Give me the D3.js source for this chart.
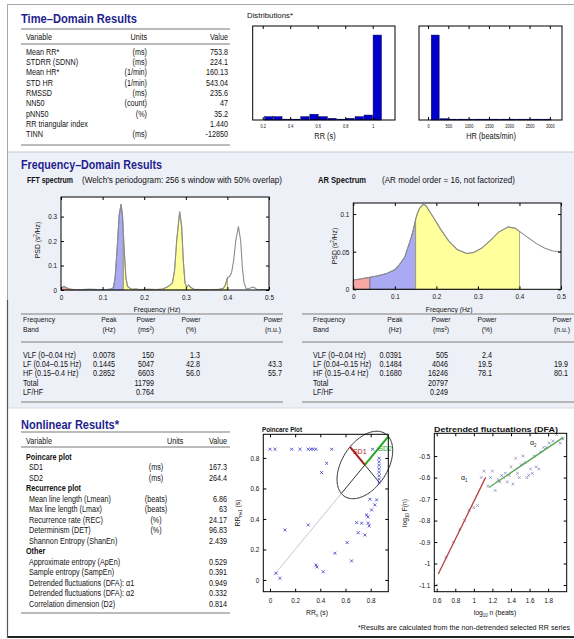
<!DOCTYPE html>
<html lang="en">
<head>
  <meta charset="UTF-8">
  <title>HRV Analysis Results</title>
  <style>
    body { margin: 0; background: #fff; }
    svg { display: block; }
  </style>
  <script src="https://d3js.org/d3.v7.min.js"></script>
</head>
<body>
  <svg id="chart" width="574" height="639"></svg>
  <script>
    const FONT = '"Liberation Sans Narrow","Arial Narrow","Liberation Sans",Arial,sans-serif';
    const navy = "#1f1f8f";

    // ---- time domain ----
    const timeVars = ["Mean RR*", "STDRR (SDNN)", "Mean HR*", "STD HR", "RMSSD", "NN50", "pNN50", "RR triangular index", "TINN"];
    const timeUnits = ["(ms)", "(ms)", "(1/min)", "(1/min)", "(ms)", "(count)", "(%)", "", "(ms)"];
    const timeValues = ["753.8", "224.1", "160.13", "543.04", "235.6", "47", "35.2", "1.440", "-12850"];

    // ---- distributions ----
    const rrBins = [0.244, 0.310, 0.375, 0.441, 0.507, 0.573, 0.639, 0.704, 0.770, 0.836, 0.902, 0.967, 1.033];
    const rrCounts = [4, 4, 1, 1, 4, 7, 4, 2, 1, 2, 4, 6, 103];
    const rrTicks = [0.2, 0.4, 0.6, 0.8, 1];
    const hrBins = [177, 389, 601, 813, 1025, 1237, 1449, 1661, 1873, 2085, 2297, 2509, 2721, 2933];
    const hrCounts = [103, 1.5, 1, 1, 1, 1, 1, 1, 1, 1, 1, 1, 1, 1];
    const hrTicks = [0, 500, 1000, 1500, 2000, 2500, 3000];

    // ---- spectra ----
    const fftFreq = [0, 0.004, 0.008, 0.012, 0.02, 0.03, 0.04, 0.05, 0.07, 0.09, 0.11, 0.12, 0.126, 0.13, 0.135, 0.14, 0.1445, 0.148, 0.15, 0.152, 0.156, 0.16, 0.165, 0.17, 0.18, 0.19, 0.21, 0.23, 0.245, 0.255, 0.262, 0.268, 0.273, 0.278, 0.2852, 0.29, 0.294, 0.298, 0.302, 0.307, 0.312, 0.32, 0.34, 0.36, 0.38, 0.39, 0.395, 0.4, 0.405, 0.41, 0.415, 0.42, 0.4265, 0.432, 0.436, 0.44, 0.445, 0.45, 0.46, 0.465, 0.47, 0.48, 0.5];
    const fftPsd = [0.008, 0.012, 0.014, 0.01, 0.004, 0.002, 0.002, 0.002, 0.003, 0.002, 0.002, 0.004, 0.01, 0.05, 0.17, 0.31, 0.35, 0.30, 0.23, 0.16, 0.05, 0.015, 0.008, 0.003, 0.004, 0.002, 0.003, 0.002, 0.004, 0.012, 0.02, 0.03, 0.08, 0.2, 0.32, 0.26, 0.12, 0.03, 0.012, 0.02, 0.01, 0.003, 0.002, 0.002, 0.003, 0.006, 0.02, 0.05, 0.055, 0.07, 0.12, 0.2, 0.26, 0.2, 0.09, 0.03, 0.006, 0.004, 0.012, 0.01, 0.003, 0.002, 0.002];
    const arFreq = [0, 0.02, 0.04, 0.06, 0.08, 0.1, 0.11, 0.124, 0.136, 0.14, 0.145, 0.15, 0.155, 0.16, 0.1685, 0.175, 0.19, 0.21, 0.23, 0.25, 0.273, 0.29, 0.31, 0.33, 0.35, 0.373, 0.39, 0.4, 0.42, 0.44, 0.46, 0.48, 0.5];
    const arPsd = [0.0124, 0.014, 0.016, 0.018, 0.021, 0.026, 0.032, 0.043, 0.063, 0.07, 0.08, 0.093, 0.102, 0.108, 0.113, 0.111, 0.098, 0.08, 0.064, 0.053, 0.0476, 0.049, 0.055, 0.065, 0.076, 0.083, 0.081, 0.077, 0.069, 0.061, 0.055, 0.051, 0.05];
    const bandEdges = [0, 0.04, 0.15, 0.4];
    const bandColors = ["#f8a8a4", "#aaaaf4", "#ffff9c"];
    const bandNames = ["VLF (0–0.04 Hz)", "LF (0.04–0.15 Hz)", "HF (0.15–0.4 Hz)"];

    const fftPeak = ["0.0078", "0.1445", "0.2852"];
    const fftPowMs = ["150", "5047", "6603"];
    const fftPowPct = ["1.3", "42.8", "56.0"];
    const fftPowNu = ["", "43.3", "55.7"];
    const fftTotal = "11799", fftLfHf = "0.764";
    const arPeak = ["0.0391", "0.1484", "0.1680"];
    const arPowMs = ["505", "4046", "16246"];
    const arPowPct = ["2.4", "19.5", "78.1"];
    const arPowNu = ["", "19.9", "80.1"];
    const arTotal = "20797", arLfHf = "0.249";

    // ---- nonlinear ----
    const nlVars = ["Poincare plot", "SD1", "SD2", "Recurrence plot", "Mean line length (Lmean)", "Max line length (Lmax)", "Recurrence rate (REC)", "Determinism (DET)", "Shannon Entropy (ShanEn)", "Other", "Approximate entropy (ApEn)", "Sample entropy (SampEn)", "Detrended fluctuations (DFA): α1", "Detrended fluctuations (DFA): α2", "Correlation dimension (D2)"];
    const nlUnits = ["", "(ms)", "(ms)", "", "(beats)", "(beats)", "(%)", "(%)", "", "", "", "", "", "", ""];
    const nlValues = ["", "167.3", "264.4", "", "6.86", "63", "24.17", "96.83", "2.439", "", "0.529", "0.391", "0.949", "0.332", "0.814"];
    const nlHeads = [true, false, false, true, false, false, false, false, false, true, false, false, false, false, false];

    const meanRR = 0.7538, sd1 = 0.1673, sd2 = 0.2644;
    const pX = [0, 0.04, 0.172, 0.238, 0.304, 0.325, 0.344, 0.365, 0.49, 0.815, 0.86, 0.45, 0.41, 0.119, 0.304, 0.365, 0.373, 0.423, 0.516, 0.048, 0.079, 0.613, 0.648, 0.794, 0.833, 0.807, 0.847, 0.767, 0.778, 0.78, 0.788, 0.688, 0.728, 0.701, 0.754, 0.867, 0.867, 0.867, 0.867, 0.867, 0.867, 0.867, 0.867];
    const pY = [0.857, 0.857, 0.857, 0.857, 0.857, 0.857, 0.857, 0.857, 0.857, 0.857, 0.857, 0.765, 0.704, 0.328, 0.361, 0.098, 0.085, 0.054, 0.175, 0.044, 0.011, 0.245, 0.125, 0.529, 0.492, 0.459, 0.525, 0.426, 0.413, 0.372, 0.354, 0.376, 0.372, 0.31, 0.295, 0.798, 0.775, 0.752, 0.729, 0.706, 0.683, 0.66, 0.637];

    const dfaX = [0.60, 0.70, 0.78, 0.85, 0.90, 0.95, 1.00, 1.04, 1.08, 1.11, 1.15, 1.18, 1.20, 1.23, 1.26, 1.28, 1.30, 1.32, 1.34, 1.36, 1.38, 1.40, 1.42, 1.45, 1.47, 1.49, 1.51, 1.53, 1.55, 1.57, 1.59, 1.61, 1.63, 1.65, 1.67, 1.70, 1.72, 1.75, 1.78, 1.81, 1.85, 1.89, 1.93, 1.96];
    const dfaY = [-1.10, -0.97, -0.90, -0.84, -0.80, -0.75, -0.74, -0.73, -0.60, -0.57, -0.64, -0.60, -0.57, -0.66, -0.61, -0.62, -0.59, -0.60, -0.58, -0.62, -0.59, -0.55, -0.63, -0.51, -0.58, -0.60, -0.54, -0.50, -0.53, -0.60, -0.59, -0.56, -0.58, -0.50, -0.55, -0.56, -0.48, -0.46, -0.46, -0.44, -0.43, -0.40, -0.44, -0.42];
    const alpha1X = [0.617, 1.127], alpha1Y = [-1.049, -0.599];
    const alpha2X = [1.163, 1.963], alpha2Y = [-0.646, -0.413];

    const svg = d3.select("#chart").attr("font-family", FONT);

    function t(g, s, x, y, o = {}) {
      const el = g.append("text").attr("x", x).attr("y", y)
        .attr("font-size", o.size || 8.3)
        .attr("text-anchor", o.anchor || "start")
        .attr("font-weight", o.bold ? "bold" : null)
        .attr("fill", o.fill || "#111")
        .text(s);
      if (o.w) el.attr("textLength", o.w).attr("lengthAdjust", "spacingAndGlyphs").classed("fixed", true);
      return el;
    }
    function hl(g, x1, x2, y, c = "#a4a4a4", w = 1.4) {
      g.append("line").attr("x1", x1).attr("x2", x2).attr("y1", y).attr("y2", y)
        .attr("stroke", c).attr("stroke-width", w);
    }

    // box with inward ticks on every side (matlab style)
    function boxAxes(g, x, y, xTicks, yTicks, o = {}) {
      const [xl, xr] = x.range(), [yb, yt] = y.range();
      const fx = o.fx || (d => String(d)), fy = o.fy || (d => String(d));
      const ax = [
        [d3.axisBottom(x).tickValues(xTicks).tickFormat(fx).tickPadding(o.padX || 5), `translate(0,${yb})`],
        [d3.axisTop(x).tickValues(xTicks).tickFormat(""), `translate(0,${yt})`]
      ];
      if (yTicks) {
        ax.push([d3.axisLeft(y).tickValues(yTicks).tickFormat(fy).tickPadding(4), `translate(${xl},0)`]);
        ax.push([d3.axisRight(y).tickValues(yTicks).tickFormat(""), `translate(${xr},0)`]);
      }
      ax.forEach(([a, tr]) => {
        g.append("g").attr("transform", tr)
          .call(a.tickSize(-3).tickSizeOuter(0))
          .attr("font-family", FONT).attr("font-size", o.fs || 7.3)
          .call(s => s.select(".domain").remove());
      });
      g.selectAll(".tick text").attr("fill", "#111");
      g.append("rect").attr("x", xl).attr("y", yt).attr("width", xr - xl).attr("height", yb - yt)
        .attr("fill", "none").attr("stroke", "#000").attr("stroke-width", 1);
    }

    // page background panels
    svg.append("rect").attr("x", 8).attr("y", 152).attr("width", 566).attr("height", 256).attr("fill", "#eef0f8");
    hl(svg, 8, 574, 152, "#c4c6d2", 1);
    hl(svg, 8, 574, 408, "#d8d9e2", 1);

    // ---------------- Time domain ----------------
    t(svg, "Time–Domain Results", 21, 22.5, { size: 13, bold: true, fill: navy, w: 116 });
    const tg = svg.append("g");
    hl(tg, 21, 230, 29); hl(tg, 21, 230, 44); hl(tg, 21, 230, 145);
    t(tg, "Variable", 26, 39.5); t(tg, "Units", 147, 39.5, { anchor: "end" }); t(tg, "Value", 228, 39.5, { anchor: "end" });
    const trow = d3.scaleLinear().domain([0, timeVars.length - 1]).range([52, 134.6]);
    timeVars.forEach((v, i) => {
      const y = trow(i) + 2.8;
      t(tg, v, 26, y);
      t(tg, timeUnits[i], 147, y, { anchor: "end" });
      t(tg, timeValues[i], 228, y, { anchor: "end" });
    });

    // ---------------- Distributions ----------------
    t(svg, "Distributions*", 247, 18, { size: 8, w: 46 });
    function hist(x0, x1, dom, bins, counts, binW, ticks, label, lx) {
      const g = svg.append("g");
      const x = d3.scaleLinear().domain(dom).range([x0, x1]);
      const y = d3.scaleLinear().domain([0, 114]).range([120, 26]);
      g.append("rect").attr("x", x0).attr("y", 26).attr("width", x1 - x0).attr("height", 94).attr("fill", "#fff");
      g.selectAll("rect.bar").data(bins).join("rect").attr("class", "bar")
        .attr("x", d => x(d - binW * 0.46))
        .attr("width", d => x(d + binW * 0.46) - x(d - binW * 0.46))
        .attr("y", (d, i) => y(counts[i]))
        .attr("height", (d, i) => y(0) - y(counts[i]))
        .attr("fill", "#0000c8").attr("stroke", "#00005a").attr("stroke-width", 0.5);
      boxAxes(g, x, y, ticks, null, { fs: 4.5, padX: 5 });
      t(g, label, lx, 139, { size: 8.5, anchor: "middle" });
    }
    hist(252.7, 395, [0.127, 1.162], rrBins, rrCounts, 0.0658, rrTicks, "RR (s)", 325);
    hist(419, 562, [-221.7, 3300], hrBins, hrCounts, 212, hrTicks, "HR (beats/min)", 491);

    // ---------------- Frequency domain ----------------
    t(svg, "Frequency–Domain Results", 21, 169, { size: 13, bold: true, fill: navy, w: 141 });
    t(svg, "FFT spectrum", 27, 183, { size: 8.5, bold: true, w: 46 });
    t(svg, "(Welch's periodogram: 256 s window with 50% overlap)", 82, 183, { size: 8.5, w: 200 });
    t(svg, "AR Spectrum", 318, 183, { size: 8.5, bold: true, w: 48 });
    t(svg, "(AR model order = 16, not factorized)", 382, 183, { size: 8.5, w: 133 });

    function spectrum(x0, x1, yb, yt, yMax, freq, psd, yTicks, labX, labY) {
      const g = svg.append("g");
      const x = d3.scaleLinear().domain([0, 0.5]).range([x0, x1]);
      const y = d3.scaleLinear().domain([0, yMax]).range([yb, yt]);
      const pts = freq.map((f, i) => [f, psd[i]]);
      g.append("rect").attr("x", x0).attr("y", yt).attr("width", x1 - x0).attr("height", yb - yt).attr("fill", "#fff");
      const area = d3.area().x(d => x(d[0])).y0(y(0)).y1(d => y(d[1]));
      bandColors.forEach((c, i) => {
        const seg = pts.filter(d => d[0] >= bandEdges[i] && d[0] <= bandEdges[i + 1]);
        g.append("path").attr("d", area(seg)).attr("fill", c)
          .attr("stroke", d3.color(c).darker(1.6)).attr("stroke-width", 0.7);
      });
      g.append("path").attr("d", d3.line().x(d => x(d[0])).y(d => y(d[1]))(pts))
        .attr("fill", "none").attr("stroke", "#8c8c8c").attr("stroke-width", 1.1);
      boxAxes(g, x, y, [0, 0.1, 0.2, 0.3, 0.4, 0.5], yTicks, { padX: 5 });
      t(g, "Frequency (Hz)", (x0 + x1) / 2 - 8, 311.5, { size: 7.8, anchor: "middle" });
      const pl = g.append("text").attr("transform", `translate(${labX},${labY}) rotate(-90)`)
        .attr("text-anchor", "middle").attr("font-size", 7.8).attr("fill", "#111");
      pl.append("tspan").text("PSD (s");
      pl.append("tspan").attr("font-size", 5).attr("dy", -3).text("2");
      pl.append("tspan").attr("dy", 3).text("/Hz)");
    }
    spectrum(61, 269, 290, 197, 0.38, fftFreq, fftPsd, [0, 0.1, 0.2, 0.3], 40, 240);
    spectrum(353.3, 561, 289.3, 203, 0.1147, arFreq, arPsd, [0, 0.05, 0.1], 337, 246);

    function freqTable(x0, x1, c, peak, ms, pct, nu, total, lfhf) {
      const g = svg.append("g");
      hl(g, x0, x1, 314); hl(g, x0, x1, 342); hl(g, x0, x1, 402);
      const h1 = 322, h2 = 331.8, hs = 7.8;
      t(g, "Frequency", c.band, h1, { size: hs }); t(g, "Band", c.band, h2, { size: hs });
      [["Peak", "(Hz)", c.peakH], ["Power", "(ms²)", c.msH], ["Power", "(%)", c.pctH], ["Power", "(n.u.)", c.nuH]]
        .forEach(([a, b, x]) => { t(g, a, x, h1, { anchor: "middle", size: hs }); t(g, b, x, h2, { anchor: "middle", size: hs }); });
      const ry = [355, 364, 373];
      bandNames.forEach((b, i) => {
        const y = ry[i] + 2.8;
        t(g, b, c.band, y);
        t(g, peak[i], c.peakR, y, { anchor: "end" });
        t(g, ms[i], c.msR, y, { anchor: "end" });
        t(g, pct[i], c.pctR, y, { anchor: "end" });
        t(g, nu[i], c.nuR, y, { anchor: "end" });
      });
      t(g, "Total", c.band, 385.8); t(g, total, c.msR, 385.8, { anchor: "end" });
      t(g, "LF/HF", c.band, 394.8); t(g, lfhf, c.msR, 394.8, { anchor: "end" });
    }
    freqTable(21, 283, { band: 23, peakR: 115, peakH: 109, msR: 154, msH: 146, pctR: 200, pctH: 191, nuR: 282, nuH: 273 },
      fftPeak, fftPowMs, fftPowPct, fftPowNu, fftTotal, fftLfHf);
    freqTable(302, 574, { band: 313, peakR: 401.7, peakH: 395, msR: 448, msH: 441, pctR: 492, pctH: 487, nuR: 568, nuH: 562 },
      arPeak, arPowMs, arPowPct, arPowNu, arTotal, arLfHf);

    // ---------------- Nonlinear ----------------
    t(svg, "Nonlinear Results*", 21, 429, { size: 13, bold: true, fill: navy, w: 98 });
    const ng = svg.append("g");
    hl(ng, 21, 230, 432); hl(ng, 21, 230, 447); hl(ng, 21, 230, 613);
    t(ng, "Variable", 26, 443.5); t(ng, "Units", 167, 443.5); t(ng, "Value", 227, 443.5, { anchor: "end" });
    const nrow = d3.scaleLinear().domain([0, nlVars.length - 1]).range([457, 604]);
    nlVars.forEach((v, i) => {
      const y = nrow(i) + 2.8;
      t(ng, v, nlHeads[i] ? 26 : 29, y, { bold: nlHeads[i] });
      t(ng, nlUnits[i], 156, y, { anchor: "middle" });
      t(ng, nlValues[i], 227, y, { anchor: "end" });
    });

    // Poincare plot
    {
      const g = svg.append("g");
      const x = d3.scaleLinear().domain([-0.053, 0.94]).range([263.3, 388.3]);
      const y = d3.scaleLinear().domain([-0.077, 0.955]).range([591.7, 434.3]);
      g.append("rect").attr("x", 263.3).attr("y", 434.3).attr("width", 125).attr("height", 157.4).attr("fill", "#fff");
      const r2 = Math.SQRT1_2;
      const lo = meanRR - sd2 * r2;
      const seg = (a, b, c, w) => g.append("line").attr("x1", x(a[0])).attr("y1", y(a[1]))
        .attr("x2", x(b[0])).attr("y2", y(b[1])).attr("stroke", c).attr("stroke-width", w);
      seg([0.03, 0.03], [lo, lo], "#c8c8c8", 1);
      const ell = d3.range(0, 2 * Math.PI + 0.05, 0.05).map(a => [
        meanRR + sd2 * Math.cos(a) * r2 - sd1 * Math.sin(a) * r2,
        meanRR + sd2 * Math.cos(a) * r2 + sd1 * Math.sin(a) * r2]);
      g.append("path").attr("d", d3.line().x(d => x(d[0])).y(d => y(d[1]))(ell))
        .attr("fill", "none").attr("stroke", "#333").attr("stroke-width", 1);
      seg([lo, lo], [meanRR, meanRR], "#333", 1);
      seg([meanRR + sd1 * r2, meanRR - sd1 * r2], [meanRR, meanRR], "#333", 1);
      g.selectAll("path.pt").data(pX).join("path").attr("class", "pt")
        .attr("transform", (d, i) => `translate(${x(d)},${y(pY[i])})`)
        .attr("d", d3.symbol(d3.symbolX, 7))
        .attr("fill", "none").attr("stroke", "#3a3ac8").attr("stroke-width", 0.8);
      seg([meanRR, meanRR], [meanRR + sd2 * r2, meanRR + sd2 * r2], "#22aa22", 2);
      seg([meanRR, meanRR], [meanRR - sd1 * r2, meanRR + sd1 * r2], "#aa1c1c", 2);
      t(g, "SD1", x(meanRR - sd1 * r2) + 3, y(meanRR + sd1 * r2) + 7, { size: 8, fill: "#aa1c1c" });
      t(g, "SD2", x(meanRR + sd2 * r2 * 0.45) + 3, y(meanRR + sd2 * r2 * 0.45) - 1, { size: 8, fill: "#22aa22" });
      boxAxes(g, x, y, [0, 0.2, 0.4, 0.6, 0.8], [0, 0.2, 0.4, 0.6, 0.8], { padX: 6 });
      t(g, "Poincare Plot", 262, 432, { size: 8, bold: true, w: 40 });
      const xl = g.append("text").attr("x", 317).attr("y", 615).attr("text-anchor", "middle").attr("font-size", 7.8).attr("fill", "#111");
      xl.append("tspan").text("RR");
      xl.append("tspan").attr("font-size", 5).attr("dy", 2).text("n");
      xl.append("tspan").attr("dy", -2).text(" (s)");
      const yl = g.append("text").attr("transform", "translate(240,513) rotate(-90)").attr("text-anchor", "middle").attr("font-size", 7.8).attr("fill", "#111");
      yl.append("tspan").text("RR");
      yl.append("tspan").attr("font-size", 5).attr("dy", 2).text("n+1");
      yl.append("tspan").attr("dy", -2).text(" (s)");
    }

    // DFA
    {
      const g = svg.append("g");
      const x = d3.scaleLinear().domain([0.574, 2.0]).range([434.3, 566.7]);
      const y = d3.scaleLinear().domain([-1.131, -0.394]).range([591.7, 433.3]);
      g.append("rect").attr("x", 434.3).attr("y", 433.3).attr("width", 132.4).attr("height", 158.4).attr("fill", "#fff");
      g.selectAll("path.pt").data(dfaX).join("path").attr("class", "pt")
        .attr("transform", (d, i) => `translate(${x(d)},${y(dfaY[i])})`)
        .attr("d", d3.symbol(d3.symbolX, 6))
        .attr("fill", "none").attr("stroke", "#8080bc").attr("stroke-width", 0.7);
      const ln = d3.line().x(d => x(d[0])).y(d => y(d[1]));
      g.append("path").attr("d", ln(alpha1X.map((v, i) => [v, alpha1Y[i]]))).attr("stroke", "#b84040").attr("stroke-width", 1.3).attr("fill", "none");
      g.append("path").attr("d", ln(alpha2X.map((v, i) => [v, alpha2Y[i]]))).attr("stroke", "#55a855").attr("stroke-width", 1.3).attr("fill", "none");
      [["1", 461, 480], ["2", 530, 445]].forEach(([s, ax, ay]) => {
        const a = g.append("text").attr("x", ax).attr("y", ay).attr("font-size", 8).attr("fill", "#222");
        a.append("tspan").text("α");
        a.append("tspan").attr("font-size", 5).attr("dy", 2).text(s);
      });
      boxAxes(g, x, y, [0.6, 0.8, 1, 1.2, 1.4, 1.6, 1.8], [-1.1, -1, -0.9, -0.8, -0.7, -0.6, -0.5], { padX: 6 });
      t(g, "Detrended fluctuations (DFA)", 496, 432, { size: 8, bold: true, anchor: "middle", w: 124 });
      const xl = g.append("text").attr("x", 495).attr("y", 615).attr("text-anchor", "middle").attr("font-size", 7.8).attr("fill", "#111");
      xl.append("tspan").text("log");
      xl.append("tspan").attr("font-size", 5).attr("dy", 2).text("10");
      xl.append("tspan").attr("dy", -2).text(" n (beats)");
      const yl = g.append("text").attr("transform", "translate(407,513) rotate(-90)").attr("text-anchor", "middle").attr("font-size", 7.8).attr("fill", "#111");
      yl.append("tspan").text("log");
      yl.append("tspan").attr("font-size", 5).attr("dy", 2).text("10");
      yl.append("tspan").attr("dy", -2).text(" F(n)");
    }

    t(svg, "*Results are calculated from the non-detrended selected RR series", 358, 630, { size: 6.8, w: 212 });

    // page frame
    svg.append("rect").attr("x", 7.5).attr("y", 4.5).attr("width", 600).attr("height", 632)
      .attr("fill", "none").attr("stroke", "#a8a8a8").attr("stroke-width", 1);
    hl(svg, 7, 574, 637, "#222", 2);
    svg.append("line").attr("x1", 7.5).attr("x2", 7.5).attr("y1", 300).attr("y2", 638).attr("stroke", "#555").attr("stroke-width", 1.2);

    // narrow the regular sans to mimic a condensed face
    svg.selectAll("text").filter(function () { return !this.classList.contains("fixed"); })
      .each(function () {
        const w = this.getComputedTextLength();
        if (w > 0) d3.select(this).attr("textLength", w * 0.87).attr("lengthAdjust", "spacingAndGlyphs");
      });
  </script>
</body>
</html>
